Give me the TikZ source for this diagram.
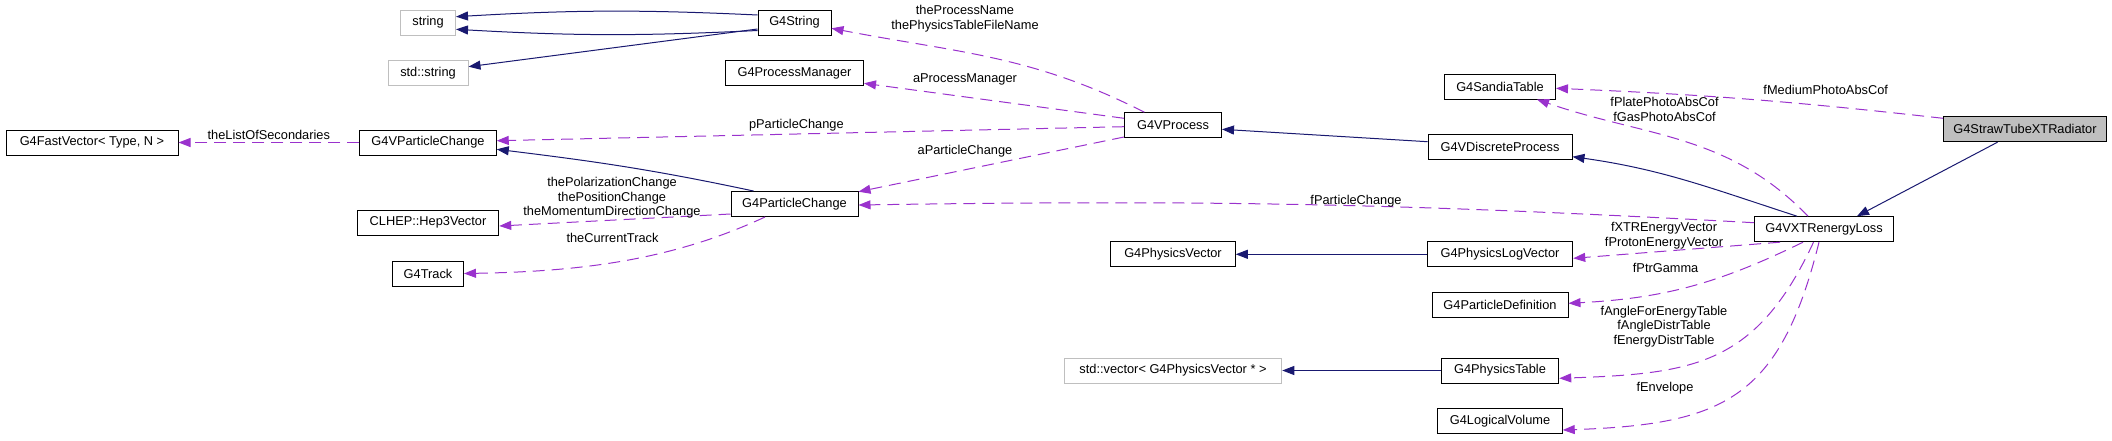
\documentclass[tikz,border=0pt]{standalone}
\usepackage{fontspec}
\setmainfont{Liberation Sans}
\usetikzlibrary{arrows.meta, positioning}
\definecolor{navyedge}{HTML}{191970}
\definecolor{usepurple}{HTML}{9A32CD}
\definecolor{boxgray}{HTML}{BFBFBF}
\tikzstyle{cls}     = [draw=black, line width=1pt, rectangle, minimum height=25pt, inner sep=0pt, font=\fontsize{12.8}{14.5}\selectfont]
\tikzstyle{ext}     = [cls, draw=boxgray]
\tikzstyle{focus}   = [cls, fill=boxgray]
\tikzstyle{lbl}     = [inner sep=0pt, align=center, font=\fontsize{12.8}{14.5}\selectfont]
\tikzstyle{inherit} = [navyedge, line width=1pt, -{Triangle[length=12pt,width=9pt]}]
\tikzstyle{uses}    = [usepurple, line width=1pt, dash pattern=on 12pt off 7pt, -{Triangle[length=12pt,width=9pt]}]

\begin{document}
\begin{tikzpicture}[x=1pt, y=1pt]
\useasboundingbox (0,0) rectangle (2112,-440);

% left column
\node[ext, minimum width=55pt]    (str)     at (428,-22.5)   {string};
\node[ext, minimum width=80pt]    (stdstr)  at (428,-73)     {std::string};
\node[cls, minimum width=172pt]   (fastvec) at (92,-142.5)   {G4FastVector< Type, N >};
\node[cls, minimum width=136.5pt] (vpc)     at (428,-142.5)  {G4VParticleChange};
\node[cls, minimum width=141.5pt] (clhep)   at (428,-222.5)  {CLHEP::Hep3Vector};
\node[cls, minimum width=71pt]    (track)   at (428,-273.5)  {G4Track};

% middle column
\node[cls, minimum width=73pt]    (g4str)   at (794.5,-22.5) {G4String};
\node[cls, minimum width=138pt]   (procman) at (794.5,-73)   {G4ProcessManager};
\node[cls, minimum width=127pt]   (pchange) at (794.5,-204)  {G4ParticleChange};
\node[cls, minimum width=97pt]    (vproc)   at (1173,-125.2) {G4VProcess};
\node[cls, minimum width=124.5pt] (physvec) at (1173,-254.3) {G4PhysicsVector};
\node[ext, minimum width=217.5pt] (stdvec)  at (1173,-370.5) {std::vector< G4PhysicsVector * >};

% right column
\node[cls, minimum width=111pt]   (sandia)  at (1500,-86.5)  {G4SandiaTable};
\node[cls, minimum width=144pt]   (vdisc)   at (1500,-146.5) {G4VDiscreteProcess};
\node[cls, minimum width=145.5pt] (logvec)  at (1500,-254.3) {G4PhysicsLogVector};
\node[cls, minimum width=136pt]   (pdef)    at (1500,-305.3) {G4ParticleDefinition};
\node[cls, minimum width=117.5pt] (ptable)  at (1500,-370.5) {G4PhysicsTable};
\node[cls, minimum width=124.5pt] (logvol)  at (1500,-420.8) {G4LogicalVolume};
\node[cls, minimum width=139pt]   (vxtr)    at (1824,-229.2) {G4VXTRenergyLoss};
\node[focus, minimum width=163pt] (straw)   at (2025,-129.2) {G4StrawTubeXTRadiator};

% inheritance
\draw[inherit] ([yshift=7.5pt]g4str.west) to[bend right=3] ([yshift=5.8pt]str.east);
\draw[inherit] ([yshift=-8pt]g4str.west) to[bend left=3] ([yshift=-6.8pt]str.east);
\draw[inherit] ([yshift=-6.5pt]g4str.west) -- ([yshift=6.3pt]stdstr.east);
\draw[inherit] ([xshift=-41pt]pchange.north) to[out=168,in=-7] ([yshift=-6.8pt]vpc.east);
\draw[inherit] ([yshift=4.8pt]vdisc.west) -- ([yshift=-4.1pt]vproc.east);
\draw[inherit] ([xshift=-27pt]vxtr.north) to[out=162,in=-8] ([yshift=-10.2pt]vdisc.east);
\draw[inherit] ([xshift=-27.5pt]straw.south) -- ([xshift=33pt]vxtr.north);
\draw[inherit] (logvec.west) -- (physvec.east);
\draw[inherit] (ptable.west) -- (stdvec.east);

% usage edges
\draw[uses] (vpc.west) -- (fastvec.east);
\draw[uses] ([xshift=-28.7pt]vproc.north) to[out=153,in=-11] ([yshift=-5.8pt]g4str.east);
\draw[uses] ([yshift=6.9pt]vproc.west) -- ([yshift=-10.3pt]procman.east);
\draw[uses] ([yshift=-1.5pt]vproc.west) -- ([yshift=1.8pt]vpc.east);
\draw[uses] ([yshift=-11.8pt]vproc.west) -- ([yshift=12.3pt]pchange.east);
\draw[uses] ([yshift=-10pt]pchange.west) -- ([yshift=-3.5pt]clhep.east);
\draw[uses] ([xshift=-29.5pt]pchange.south) to[out=205,in=1,looseness=0.9] (track.east);
\draw[uses] ([yshift=6.5pt]vxtr.west) to[bend right=2] ([yshift=-1pt]pchange.east);
\draw[uses] ([yshift=10.9pt]straw.west) to[bend right=2] ([yshift=-1.8pt]sandia.east);
\draw[uses] ([xshift=-16pt]vxtr.north) to[out=134,in=-19] ([xshift=37pt]sandia.south);
\draw[uses] ([xshift=-44pt]vxtr.south) -- ([yshift=-4pt]logvec.east);
\draw[uses] ([xshift=-21pt]vxtr.south) to[out=206,in=3] ([yshift=2pt]pdef.east);
\draw[uses] ([xshift=-10.5pt]vxtr.south) to[out=245,in=2,looseness=1.2] ([yshift=-7.8pt]ptable.east);
\draw[uses] ([xshift=-5pt]vxtr.south) to[out=256,in=2,looseness=1.3] ([yshift=-9.2pt]logvol.east);

% edge labels
\node[lbl] (lsec)    at (268.8,-135)  {theListOfSecondaries};
\node[lbl] (lpname)  at (965,-18.9)   {theProcessName\\thePhysicsTableFileName};
\node[lbl] (lpman)   at (965,-79.3)   {aProcessManager};
\node[lbl] (lpchg)   at (796.4,-125)  {pParticleChange};
\node[lbl] (lachg)   at (965,-150.7)  {aParticleChange};
\node[lbl] (lchg3)   at (612,-197.8)  {thePolarizationChange\\thePositionChange\\theMomentumDirectionChange};
\node[lbl] (ltrack)  at (612.5,-238.3) {theCurrentTrack};
\node[lbl] (lfpchg)  at (1356,-201)   {fParticleChange};
\node[lbl] (lmedium) at (1825.7,-90)  {fMediumPhotoAbsCof};
\node[lbl] (lplate)  at (1664.5,-109.2) {fPlatePhotoAbsCof\\fGasPhotoAbsCof};
\node[lbl] (lxtr)    at (1664,-235.8) {fXTREnergyVector\\fProtonEnergyVector};
\node[lbl] (lgamma)  at (1665.6,-268.3) {fPtrGamma};
\node[lbl] (ltables) at (1664,-326.4) {fAngleForEnergyTable\\fAngleDistrTable\\fEnergyDistrTable};
\node[lbl] (lenv)    at (1665,-388.3) {fEnvelope};

\end{tikzpicture}
\end{document}
